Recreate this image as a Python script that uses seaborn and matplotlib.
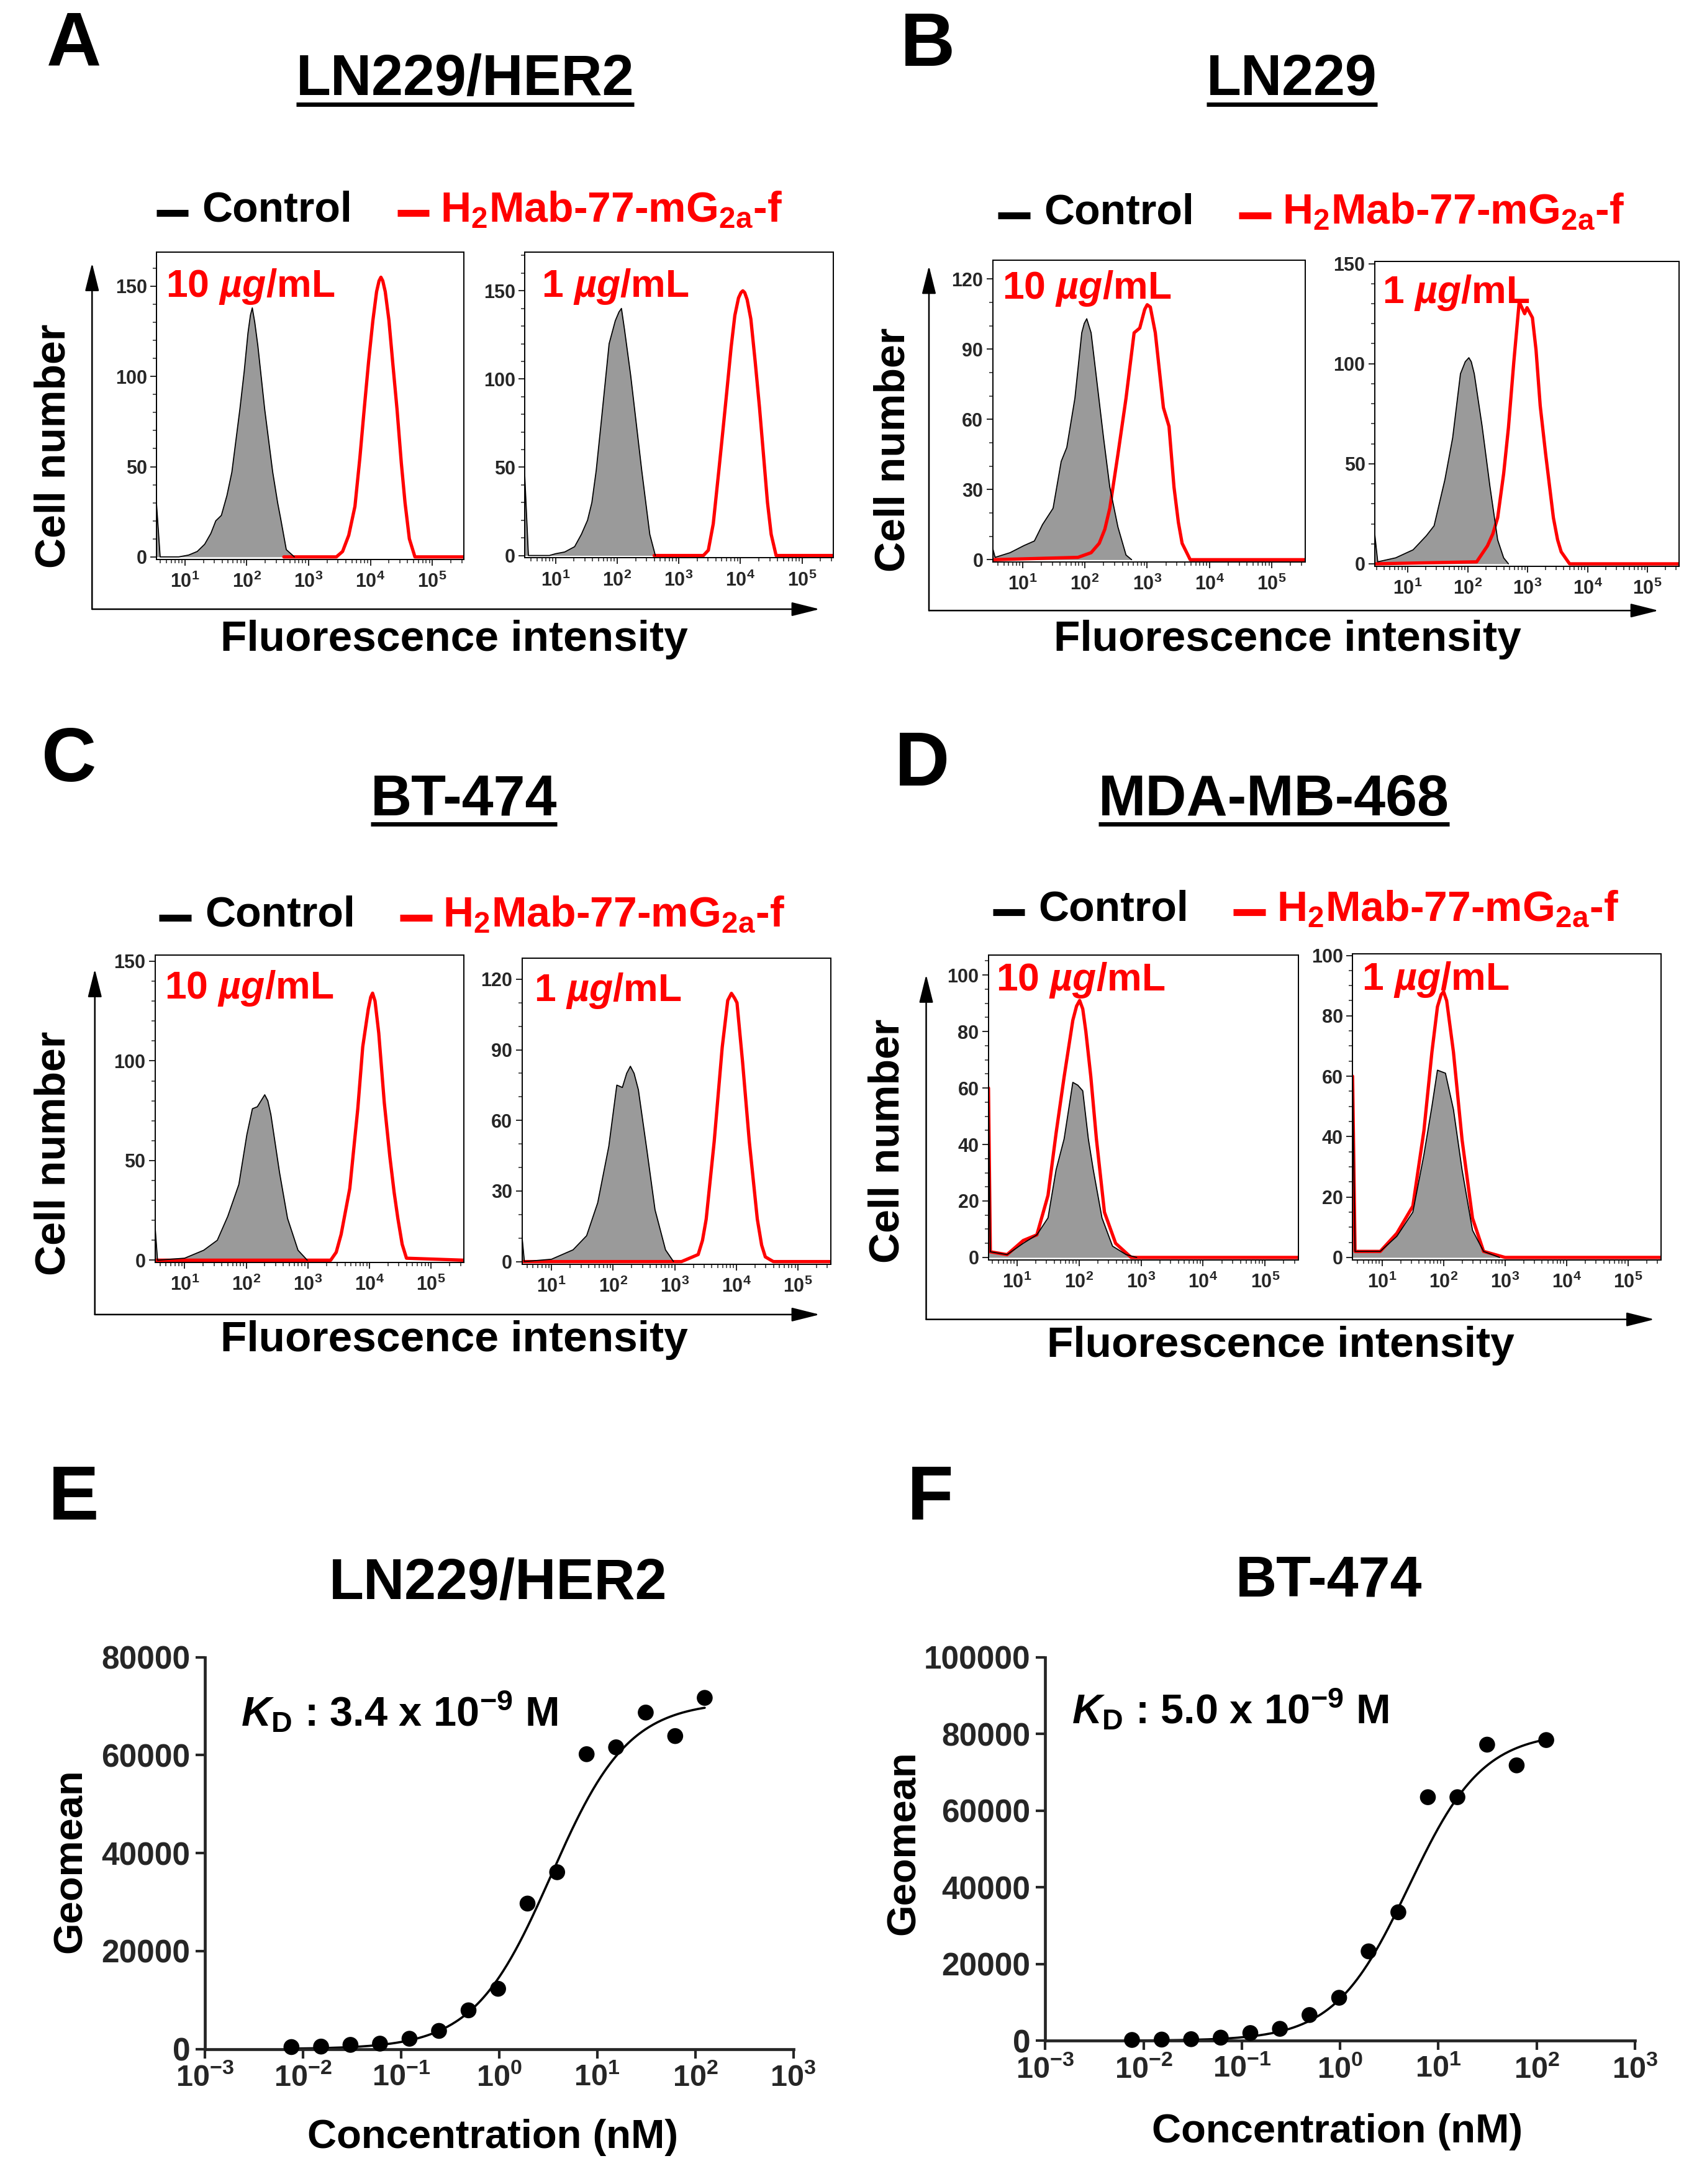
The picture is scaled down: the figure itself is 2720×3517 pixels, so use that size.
import numpy as np
import matplotlib
matplotlib.use("Agg")
import matplotlib.pyplot as plt
import seaborn as sns
from matplotlib.ticker import MultipleLocator, FixedLocator, LogLocator, NullFormatter, NullLocator
from matplotlib.patches import FancyArrowPatch
from matplotlib.lines import Line2D

# ---------------------------------------------------------------- data
# flow-cytometry histograms: x = log10(fluorescence), y = cell number
# Panel A  LN229/HER2
A10_ctrl_lx = [0.54, 0.60, 0.90, 1.06, 1.20, 1.32, 1.42, 1.50, 1.59, 1.68, 1.76, 1.89, 1.96, 2.02, 2.06, 2.09, 2.13, 2.18, 2.29, 2.42, 2.50, 2.55, 2.64, 2.77]
A10_ctrl_y = [30, 0, 0, 1, 3, 7, 13, 20, 23, 34, 47, 82, 103, 124, 134, 138, 130, 117, 82, 47, 30, 21, 4, 0]
A10_red_lx = [2.60, 3.45, 3.55, 3.65, 3.75, 3.83, 3.90, 3.97, 4.04, 4.10, 4.14, 4.17, 4.20, 4.24, 4.30, 4.36, 4.43, 4.50, 4.56, 4.63, 4.72, 5.51]
A10_red_y = [0, 0, 3, 12, 28, 55, 82, 108, 131, 147, 153, 155, 153, 147, 131, 108, 82, 52, 30, 10, 0, 0]
A1_ctrl_lx = [0.50, 0.56, 0.90, 1.00, 1.15, 1.31, 1.42, 1.52, 1.59, 1.66, 1.74, 1.87, 1.97, 2.03, 2.07, 2.12, 2.22, 2.31, 2.40, 2.53, 2.62]
A1_ctrl_y = [46, 0, 0, 1, 2, 5, 12, 20, 30, 48, 75, 120, 133, 138, 140, 128, 102, 75, 48, 12, 0]
A1_red_lx = [2.60, 3.40, 3.48, 3.56, 3.65, 3.72, 3.78, 3.85, 3.91, 3.97, 4.01, 4.04, 4.07, 4.11, 4.17, 4.24, 4.31, 4.38, 4.44, 4.50, 4.58, 5.51]
A1_red_y = [0, 0, 3, 18, 48, 72, 93, 118, 136, 146, 149, 150, 149, 145, 134, 110, 84, 55, 30, 12, 0, 0]
# Panel B  LN229
B10_ctrl_lx = [0.52, 0.56, 0.80, 1.02, 1.19, 1.32, 1.49, 1.62, 1.71, 1.84, 1.95, 1.99, 2.03, 2.10, 2.18, 2.30, 2.40, 2.53, 2.66, 2.75]
B10_ctrl_y = [5, 1, 3, 6, 8, 15, 22, 42, 48, 69, 97, 101, 103, 97, 79, 52, 31, 14, 2, 0]
B10_red_lx = [0.52, 1.89, 2.10, 2.23, 2.32, 2.40, 2.53, 2.66, 2.79, 2.88, 2.96, 3.00, 3.05, 3.13, 3.26, 3.35, 3.43, 3.50, 3.56, 3.69, 5.54]
B10_red_y = [0, 1, 3, 7, 13, 22, 45, 69, 97, 99, 107, 109, 108, 97, 65, 57, 31, 16, 7, 0, 0]
B1_ctrl_lx = [0.45, 0.50, 0.80, 1.09, 1.31, 1.44, 1.62, 1.75, 1.88, 1.96, 2.02, 2.06, 2.11, 2.24, 2.37, 2.50, 2.60, 2.68]
B1_ctrl_y = [15, 1, 3, 7, 14, 19, 42, 63, 95, 101, 103, 101, 95, 69, 39, 12, 3, 0]
B1_red_lx = [0.45, 2.15, 2.33, 2.42, 2.50, 2.60, 2.68, 2.77, 2.86, 2.95, 2.99, 3.08, 3.14, 3.21, 3.30, 3.43, 3.50, 3.56, 3.70, 5.53]
B1_red_y = [0, 1, 9, 15, 23, 45, 68, 101, 131, 125, 128, 123, 107, 79, 55, 23, 12, 6, 0, 0]
# Panel C  BT-474
C10_ctrl_lx = [0.52, 0.56, 1.00, 1.31, 1.53, 1.70, 1.88, 2.01, 2.10, 2.18, 2.24, 2.30, 2.35, 2.40, 2.54, 2.67, 2.84, 2.99]
C10_ctrl_y = [17, 0, 1, 5, 10, 22, 38, 63, 76, 77, 80, 83, 80, 73, 44, 21, 5, 0]
C10_red_lx = [0.52, 3.37, 3.46, 3.54, 3.68, 3.81, 3.89, 3.98, 4.02, 4.05, 4.09, 4.15, 4.24, 4.33, 4.40, 4.46, 4.53, 4.60, 5.53]
C10_red_y = [0, 0, 4, 13, 36, 76, 107, 126, 132, 134, 130, 114, 79, 52, 34, 21, 8, 1, 0]
C1_ctrl_lx = [0.52, 0.56, 1.00, 1.35, 1.57, 1.75, 1.93, 2.06, 2.15, 2.22, 2.28, 2.34, 2.41, 2.55, 2.68, 2.85, 2.98]
C1_ctrl_y = [11, 0, 1, 5, 11, 25, 49, 75, 74, 80, 83, 80, 73, 47, 22, 5, 0]
C1_red_lx = [0.52, 3.11, 3.38, 3.45, 3.51, 3.64, 3.77, 3.86, 3.92, 3.97, 4.01, 4.10, 4.21, 4.34, 4.41, 4.47, 4.60, 5.53]
C1_red_y = [0, 0, 3, 9, 18, 51, 91, 111, 114, 112, 110, 85, 51, 18, 7, 2, 0, 0]
# Panel D  MDA-MB-468
D10_ctrl_lx = [0.54, 0.57, 0.84, 1.10, 1.32, 1.50, 1.63, 1.76, 1.90, 1.98, 2.06, 2.15, 2.23, 2.37, 2.54, 2.76, 2.93]
D10_ctrl_y = [60, 2, 1, 5, 8, 14, 31, 42, 62, 61, 59, 42, 31, 14, 4, 1, 0]
D10_red_lx = [0.54, 0.57, 0.84, 1.10, 1.32, 1.50, 1.63, 1.76, 1.90, 1.96, 2.01, 2.06, 2.11, 2.19, 2.28, 2.41, 2.59, 2.84, 5.54]
D10_red_y = [60, 2, 1, 6, 8, 22, 44, 64, 84, 89, 91, 88, 80, 64, 42, 16, 5, 0, 0]
D1_ctrl_lx = [0.52, 0.56, 0.97, 1.24, 1.50, 1.68, 1.81, 1.90, 2.03, 2.16, 2.30, 2.47, 2.65, 2.91]
D1_ctrl_y = [60, 2, 2, 7, 15, 34, 50, 62, 61, 49, 29, 9, 2, 0]
D1_red_lx = [0.52, 0.56, 0.97, 1.24, 1.50, 1.68, 1.81, 1.90, 1.96, 2.00, 2.05, 2.16, 2.30, 2.47, 2.65, 3.00, 5.54]
D1_red_y = [60, 2, 2, 8, 17, 42, 68, 83, 87, 88, 85, 68, 39, 13, 2, 0, 0]

# binding curves (concentration in nM, geomean)
conc_nM = [0.00763, 0.0153, 0.0305, 0.061, 0.122, 0.244, 0.488, 0.977, 1.95, 3.91, 7.81, 15.6, 31.3, 62.5, 125]
E_geomean = [400, 500, 850, 1100, 2100, 3700, 7900, 12300, 29700, 36100, 60200, 61600, 68700, 63900, 71700]
F_geomean = [200, 300, 400, 800, 2000, 3100, 6700, 11200, 23300, 33500, 63500, 63500, 77200, 71800, 78400]
E_fit = dict(KD=3.4, Bmax=71000, h=1.1)
F_fit = dict(KD=5.0, Bmax=80500, h=1.15)

x_tick_exp_hist = [1, 2, 3, 4, 5]
x_tick_exp_bind = [-3, -2, -1, 0, 1, 2, 3]

# ---------------------------------------------------------------- style
sns.set_style("ticks")
plt.rcParams["font.family"] = ["Liberation Sans", "DejaVu Sans"]
plt.rcParams["mathtext.fontset"] = "custom"
plt.rcParams["mathtext.rm"] = "Liberation Sans:bold"
plt.rcParams["mathtext.it"] = "Liberation Sans:bold:italic"
plt.rcParams["mathtext.bf"] = "Liberation Sans:bold"

fig = plt.figure(figsize=(27.2, 35.17), dpi=100)
W_D, H_D = 1220.0, 1577.5


def fx(x):
    return x / W_D


def fy(y):
    return 1.0 - y / H_D


def rect(x0, y0, x1, y1):
    return [fx(x0), fy(y1), fx(x1) - fx(x0), fy(y0) - fy(y1)]


RED = "#ff0000"
GREY = "#9a9a9a"


def hist_axes(r, xl, ytop, ymaj, ymin, clx, cy, rlx, ry, label, lab_xy):
    ax = fig.add_axes(rect(*r))
    ax.set_xscale("log")
    cx = 10 ** np.array(clx)
    rx = 10 ** np.array(rlx)
    ax.fill_between(cx, cy, 0, color=GREY, lw=0, zorder=1)
    sns.lineplot(x=rx, y=ry, ax=ax, color=RED, lw=3.8, sort=False, estimator=None, zorder=2)
    sns.lineplot(x=cx, y=cy, ax=ax, color="black", lw=1.3, sort=False, estimator=None, zorder=3)
    ax.set_xlim(10 ** xl[0], 10 ** xl[1])
    ax.set_ylim(-0.008 * ytop, ytop)
    ax.xaxis.set_major_locator(FixedLocator([10.0 ** e for e in x_tick_exp_hist]))
    ax.set_xticklabels([r"$\mathregular{10^{%d}}$" % e for e in x_tick_exp_hist])
    ax.xaxis.set_minor_locator(LogLocator(base=10, subs=np.arange(2, 10), numticks=30))
    ax.xaxis.set_minor_formatter(NullFormatter())
    ax.yaxis.set_major_locator(MultipleLocator(ymaj))
    ax.yaxis.set_minor_locator(MultipleLocator(ymin))
    ax.tick_params(which="major", direction="out", length=7, width=1.4, labelsize=22, pad=4)
    ax.tick_params(axis="x", which="major", pad=8)
    ax.tick_params(which="minor", direction="out", length=4, width=1.1)
    ax.tick_params(top=False, right=False, which="both")
    for lab in ax.get_xticklabels() + ax.get_yticklabels():
        lab.set_fontweight("bold")
    for s in ax.spines.values():
        s.set_linewidth(1.4)
        s.set_color("black")
    ax.set_xlabel("")
    ax.set_ylabel("")
    ax.text(lab_xy[0], lab_xy[1], label, transform=ax.transAxes, color=RED, fontsize=45,
            fontweight="bold", ha="left", va="center")
    return ax


lab10 = r"10 $\mathit{µg}$/mL"
lab1 = r"1 $\mathit{µg}$/mL"

panels = [
    # (rect, xlim, ytop, ymaj, ymin, data..., label, label pos)
    ((113, 182, 335, 404), (0.54, 5.51), 169, 50, 10, A10_ctrl_lx, A10_ctrl_y, A10_red_lx, A10_red_y, lab10, (0.03, 0.887)),
    ((379, 182, 602, 403), (0.50, 5.51), 172, 50, 10, A1_ctrl_lx, A1_ctrl_y, A1_red_lx, A1_red_y, lab1, (0.055, 0.886)),
    ((717, 188, 943, 406), (0.52, 5.54), 128, 30, 10, B10_ctrl_lx, B10_ctrl_y, B10_red_lx, B10_red_y, lab10, (0.03, 0.906)),
    ((993, 189, 1213, 409), (0.45, 5.53), 151, 50, 10, B1_ctrl_lx, B1_ctrl_y, B1_red_lx, B1_red_y, lab1, (0.025, 0.898)),
    ((112, 690, 335, 912), (0.52, 5.53), 153, 50, 10, C10_ctrl_lx, C10_ctrl_y, C10_red_lx, C10_red_y, lab10, (0.03, 0.893)),
    ((377, 692, 600, 913), (0.52, 5.53), 129, 30, 10, C1_ctrl_lx, C1_ctrl_y, C1_red_lx, C1_red_y, lab1, (0.04, 0.893)),
    ((714, 690, 938, 910), (0.54, 5.54), 107, 20, 5, D10_ctrl_lx, D10_ctrl_y, D10_red_lx, D10_red_y, lab10, (0.025, 0.919)),
    ((977, 689, 1200, 910), (0.52, 5.54), 100.5, 20, 5, D1_ctrl_lx, D1_ctrl_y, D1_red_lx, D1_red_y, lab1, (0.03, 0.915)),
]
for p in panels:
    hist_axes(*p)

# ---------------------------------------------------------------- annotation per histogram block
BOLD = dict(fontweight="bold", color="black")
letters = [("A", 53.5, 33), ("B", 670, 33), ("C", 50, 550), ("D", 666, 553), ("E", 53, 1083), ("F", 672, 1083)]
for t, x, y in letters:
    fig.text(fx(x), fy(y), t, fontsize=88, ha="center", va="center", **BOLD)

titles = [("LN229/HER2", 336, 58), ("LN229", 933, 58), ("BT-474", 335, 578), ("MDA-MB-468", 920, 578)]
title_texts = []
for t, x, y in titles:
    title_texts.append(fig.text(fx(x), fy(y), t, fontsize=66, ha="center", va="center", **BOLD))

legend_rows = [(113, 152, 287), (721, 153.5, 895), (115, 661, 289), (717, 657, 891)]
red_leg = r"H$_{\mathregular{2}}$Mab-77-mG$_{\mathregular{2a}}$-f"
for x0, y, xr in legend_rows:
    fig.add_artist(Line2D([fx(x0), fx(x0 + 23)], [fy(y + 2), fy(y + 2)], transform=fig.transFigure,
                          color="black", lw=8, solid_capstyle="butt"))
    fig.text(fx(x0 + 33), fy(y), "Control", fontsize=49, ha="left", va="center", **BOLD)
    fig.add_artist(Line2D([fx(xr), fx(xr + 23)], [fy(y + 2), fy(y + 2)], transform=fig.transFigure,
                          color=RED, lw=8, solid_capstyle="butt"))
    fig.text(fx(xr + 31), fy(y), red_leg, fontsize=49, ha="left", va="center", color=RED, fontweight="bold")

arrows = [(66.5, 440, 190, 592), (671, 441, 192, 1198), (68.5, 949.5, 700, 592), (669, 953, 704, 1195)]
for cx0, cy0, ytop, xr in arrows:
    for end in [(cx0, ytop), (xr, cy0)]:
        fig.add_artist(FancyArrowPatch((fx(cx0), fy(cy0)), (fx(end[0]), fy(end[1])),
                                       transform=fig.transFigure,
                                       arrowstyle="-|>,head_length=1.4,head_width=0.35",
                                       mutation_scale=20, lw=1.8, color="black",
                                       shrinkA=0, shrinkB=0))

ylabels = [(39, 322), (645, 325), (39, 833), (641, 824)]
for x, y in ylabels:
    fig.text(fx(x), fy(y), "Cell number", fontsize=49, rotation=90, ha="center", va="center", **BOLD)
xlabels = [(328, 462), (930, 462), (328, 968), (925, 972)]
for x, y in xlabels:
    fig.text(fx(x), fy(y), "Fluorescence intensity", fontsize=50, ha="center", va="center", **BOLD)


# ---------------------------------------------------------------- binding panels
def bind_axes(r, yvals, ytop, ystep, fit, title, title_xy, kd_text, kd_xy, ylab_xy, xlab_xy):
    ax = fig.add_axes(rect(*r))
    ax.set_xscale("log")
    c = np.array(conc_nM)
    xs = np.logspace(np.log10(c[0]), np.log10(c[-1]), 300)
    ys = fit["Bmax"] * xs ** fit["h"] / (fit["KD"] ** fit["h"] + xs ** fit["h"])
    sns.lineplot(x=xs, y=ys, ax=ax, color="black", lw=2.6, sort=False, estimator=None, zorder=2)
    sns.scatterplot(x=c, y=yvals, ax=ax, color="black", s=340, edgecolor="none", zorder=3, clip_on=False)
    ax.set_xlim(1e-3, 1e3)
    ax.set_ylim(0, ytop)
    ax.xaxis.set_major_locator(FixedLocator([10.0 ** e for e in x_tick_exp_bind]))
    ax.set_xticklabels([r"$\mathregular{10^{%d}}$" % e for e in x_tick_exp_bind])
    ax.xaxis.set_minor_locator(NullLocator())
    ax.yaxis.set_major_locator(MultipleLocator(ystep))
    ax.tick_params(direction="out", length=11, width=3, labelsize=37, pad=6)
    ax.tick_params(axis="x", labelsize=35)
    for lab in ax.get_xticklabels() + ax.get_yticklabels():
        lab.set_fontweight("bold")
    sns.despine(ax=ax)
    for s in ("left", "bottom"):
        ax.spines[s].set_linewidth(3.4)
    ax.set_xlabel("")
    ax.set_ylabel("")
    fig.text(fx(title_xy[0]), fy(title_xy[1]), title, fontsize=66, ha="center", va="center", **BOLD)
    fig.text(fx(kd_xy[0]), fy(kd_xy[1]), kd_text, fontsize=48, ha="left", va="center", **BOLD)
    fig.text(fx(ylab_xy[0]), fy(ylab_xy[1]), "Geomean", fontsize=47, rotation=90, ha="center", va="center", **BOLD)
    fig.text(fx(xlab_xy[0]), fy(xlab_xy[1]), "Concentration (nM)", fontsize=47, ha="center", va="center", **BOLD)


bind_axes((148, 1197, 573, 1480), E_geomean, 80000, 20000, E_fit, "LN229/HER2", (360, 1144),
          r"$\mathit{K}_{\mathregular{D}}$ : 3.4 x 10$^{\mathregular{-9}}$ M", (174, 1237), (51, 1344), (356, 1544))
bind_axes((755, 1197, 1181, 1474), F_geomean, 100000, 20000, F_fit, "BT-474", (960, 1142),
          r"$\mathit{K}_{\mathregular{D}}$ : 5.0 x 10$^{\mathregular{-9}}$ M", (774, 1235), (653, 1331), (966, 1540))

# underline titles of A-D
fig.canvas.draw()
renderer = fig.canvas.get_renderer()
inv = fig.transFigure.inverted()
for t in title_texts:
    bb = t.get_window_extent(renderer)
    (x0, y0), (x1, y1) = inv.transform([[bb.x0, bb.y0], [bb.x1, bb.y1]])
    yl = y0 + 0.0012
    fig.add_artist(Line2D([x0, x1], [yl, yl], transform=fig.transFigure, color="black", lw=5,
                          solid_capstyle="butt"))

fig.savefig("out.png", dpi=100)
